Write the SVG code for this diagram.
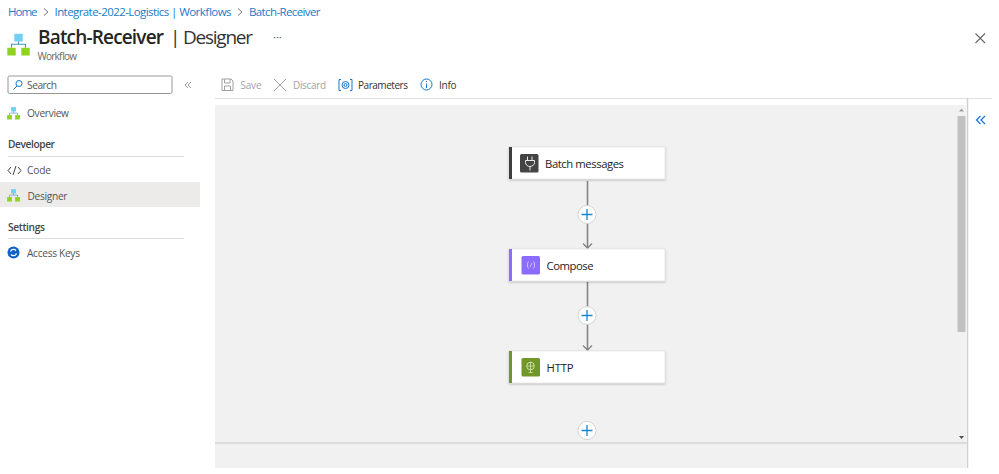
<svg xmlns="http://www.w3.org/2000/svg" width="999" height="474" viewBox="0 0 999 474">
<style>
text{font-family:"Open Sans","Noto Sans","Liberation Sans",sans-serif}
.crumb{font-size:11.500px;fill:#1a7bc8}
.sep{fill:none;stroke:#777;stroke-width:1}
.nav{font-size:10.200px;fill:#555}
.head{font-size:10.200px;font-weight:600;fill:#444}
.rule{stroke:#dcdcdc;stroke-width:1.200}
.tool{font-size:10px;fill:#333}
.off{font-size:10px;fill:#a3a3a3}
.card{fill:#fff;stroke:#dedede;stroke-width:.6;filter:url(#sh)}
.lbl{font-size:11.300px;fill:#242424}
.conn{stroke:#858585;stroke-width:1.600;fill:none}
.plus circle{fill:#fff;stroke:#d4d4d4;stroke-width:1}
.plus path{stroke:#1a86d0;stroke-width:1.300;fill:none}
.blue{fill:none;stroke:#1976c8;stroke-width:1}
</style>
<defs>
<filter id="sh" x="-5%" y="-15%" width="110%" height="135%"><feDropShadow dx="0" dy="1" stdDeviation="1" flood-color="#000" flood-opacity=".25"/></filter>
<marker id="arr" markerWidth="8" markerHeight="12" refX="7" refY="6" orient="auto" markerUnits="userSpaceOnUse"><path d="M2.500 1.500L7 6L2.500 10.500" fill="none" stroke="#808080" stroke-width="1.300"/></marker>
<g id="wf"><rect x="-3" y="-8" width="6" height="5.500" fill="#6fd0f2"/><path d="M0-2.500V-.5M-5 2V-.5H5V2" fill="none" stroke="#3a9ac9" stroke-width=".8"/><rect x="-8" y="2" width="6" height="5.500" fill="#8ed320"/><rect x="2" y="2" width="6" height="5.500" fill="#8ed320"/></g>
</defs>
<rect width="999" height="474" fill="#fff"/>
<g id="breadcrumb">
<text class="crumb" x="8" y="16" textLength="29.500">Home</text>
<path class="sep" d="M44 8.500L48 12L44 15.500"/>
<text class="crumb" x="54.500" y="16" textLength="177">Integrate-2022-Logistics | Workflows</text>
<path class="sep" d="M238 8.500L242 12L238 15.500"/>
<text class="crumb" x="249" y="16" textLength="71.500">Batch-Receiver</text>
</g>
<g id="title">
<use href="#wf" transform="translate(18.500 45) scale(1.400)"/>
<text x="38" y="44" font-size="19" font-weight="600" fill="#242424" textLength="126">Batch-Receiver</text>
<text x="170" y="44" font-size="19" fill="#333" textLength="83">| Designer</text>
<text x="37.500" y="60" font-size="10" fill="#666" textLength="39.500">Workflow</text>
<text x="273" y="41" font-size="11" fill="#555">···</text>
<path d="M975.500 33.500L985 43M985 33.500L975.500 43" stroke="#666" stroke-width="1.100" fill="none"/>
</g>
<g id="sidebar">
<rect x="8" y="76" width="164" height="17.500" rx="1.500" fill="#fff" stroke="#8a8a8a" stroke-width=".9"/>
<circle cx="19" cy="83.500" r="3" fill="none" stroke="#1976c8" stroke-width="1"/><path d="M17 86L13.500 89.500" stroke="#1976c8" stroke-width="1"/>
<text x="27" y="89" class="nav" textLength="30">Search</text>
<path d="M188 82L185 85L188 88M191 82L188 85L191 88" fill="none" stroke="#888" stroke-width=".9"/>
<use href="#wf" transform="translate(13.500 113.500) scale(.8)"/>
<text class="nav" x="27" y="117" textLength="42">Overview</text>
<text class="head" x="8" y="148" textLength="47">Developer</text>
<line class="rule" x1="8" y1="156.500" x2="184" y2="156.500"/>
<path d="M11 167L8 170.500L11 174M18 167L21 170.500L18 174M16 166L13 175" fill="none" stroke="#444" stroke-width="1"/>
<text class="nav" x="27" y="174" textLength="24">Code</text>
<rect x="0" y="182" width="200" height="25" fill="#edebe9"/>
<use href="#wf" transform="translate(13.500 195.500) scale(.8)"/>
<text class="nav" x="27.500" y="199.500" textLength="40">Designer</text>
<text class="head" x="8" y="231" textLength="37">Settings</text>
<line class="rule" x1="8" y1="238.500" x2="184" y2="238.500"/>
<circle cx="13.500" cy="252.500" r="6" fill="#0f62c9"/>
<path d="M10.500 251.500A3.200 3.200 0 0 1 16 250.500M16.500 253.500A3.200 3.200 0 0 1 11 254.500" fill="none" stroke="#fff" stroke-width="1.200"/>
<text class="nav" x="27" y="256.500" textLength="53">Access Keys</text>
</g>
<g id="toolbar">
<path d="M222 79H231L233 81V90.500H222Z M224.500 79V83H230V79M224.500 90.500V86H230.500V90.500" fill="none" stroke="#a0a0a0" stroke-width="1"/>
<text class="off" x="240.500" y="89" textLength="21">Save</text>
<path d="M274 79L286 91M286 79L274 91" stroke="#a0a0a0" stroke-width="1" fill="none"/>
<text class="off" x="293" y="89" textLength="33">Discard</text>
<path class="blue" d="M341 79.500H339V90.500H341M350 79.500H352V90.500H350"/>
<circle class="blue" cx="345.500" cy="85" r="3.500"/><circle class="blue" cx="345.500" cy="85" r="1.500"/>
<text class="tool" x="358" y="89" textLength="50">Parameters</text>
<circle class="blue" cx="426.500" cy="84.500" r="5.500"/><path class="blue" d="M426.500 83.500V88M426.500 81V82"/>
<text class="tool" x="439" y="89" textLength="17.500">Info</text>
<line x1="215" y1="98.500" x2="992" y2="98.500" stroke="#dedede"/>
</g>
<g id="canvas">
<rect x="215" y="105" width="751" height="363" fill="#f1f1f1"/>
<line x1="215" y1="443" x2="967" y2="443" stroke="#c8c8c8" stroke-width="1.200"/>
<line x1="967.500" y1="98" x2="967.500" y2="468" stroke="#d0d0d0" stroke-width="1.500"/>
<rect x="957.500" y="116" width="8" height="216" fill="#c1c1c1"/>
<path d="M961.500 108.500L959 111.500H964Z" fill="#a0a0a0"/>
<path d="M961.500 439L959 436H964Z" fill="#505050"/>
<path d="M980.500 116L976.500 120L980.500 124M985 116L981 120L985 124" fill="none" stroke="#1976d2" stroke-width="1.300"/>
</g>
<g id="connectors">
<line class="conn" x1="587.500" y1="181" x2="587.500" y2="248" marker-end="url(#arr)"/>
<line class="conn" x1="587.500" y1="282" x2="587.500" y2="350" marker-end="url(#arr)"/>
</g>
<g id="add-1" class="plus"><circle cx="587" cy="214.500" r="9"/><path d="M581.500 214.500H592.500M587 209V220"/></g>
<g id="add-2" class="plus"><circle cx="587" cy="315.500" r="9"/><path d="M581.500 315.500H592.500M587 310V321"/></g>
<g id="add-3" class="plus"><circle cx="587" cy="430.500" r="9"/><path d="M581.500 430.500H592.500M587 425V436"/></g>
<g id="batch-messages">
<rect class="card" x="509" y="147" width="156" height="32"/>
<rect x="509" y="147" width="3" height="32" fill="#3e3e3e"/>
<rect x="520" y="154" width="18.500" height="18.500" rx="1.500" fill="#444"/>
<path d="M527.500 156.500V160.500M532 156.500V160.500M525.500 160.500H534.500V162.500A4.500 4 0 0 1 525.500 162.500ZM530 166.500V170.500" fill="none" stroke="#e8e8e8" stroke-width="1"/>
<text class="lbl" x="545" y="168" textLength="79">Batch messages</text>
</g>
<g id="compose">
<rect class="card" x="509" y="249" width="156" height="32"/>
<rect x="509" y="249" width="3" height="32" fill="#8c6cff"/>
<rect x="521.500" y="256" width="18.500" height="18.500" rx="1.500" fill="#8c6cff"/>
<path d="M529 261.500Q527 262 527.500 265Q527 268 529 268.500M533 261.500Q535 262 534.500 265Q535 268 533 268.500M530 267L532 263" fill="none" stroke="#ddd3ff" stroke-width=".8"/>
<text class="lbl" x="546.500" y="270" textLength="47">Compose</text>
</g>
<g id="http">
<rect class="card" x="509" y="351" width="156" height="32"/>
<rect x="509" y="351" width="3" height="32" fill="#709727"/>
<rect x="521.500" y="358" width="18.500" height="18.500" rx="1.500" fill="#709727"/>
<circle cx="530.500" cy="366" r="3.800" fill="none" stroke="#d6e4b8" stroke-width=".9"/><path d="M530.500 362V372.500M528.500 372.500H532.500M527 366H534" fill="none" stroke="#d6e4b8" stroke-width=".8"/>
<text class="lbl" x="546.500" y="372" textLength="27">HTTP</text>
</g>
</svg>
